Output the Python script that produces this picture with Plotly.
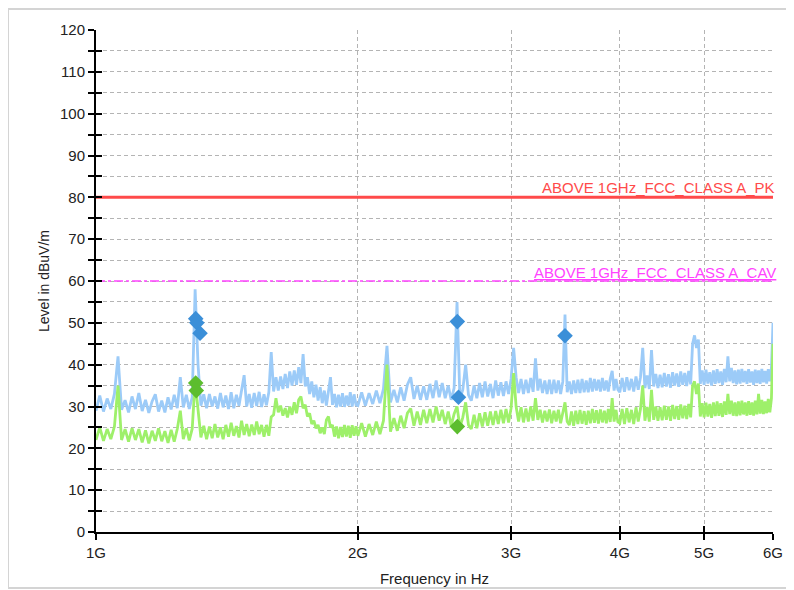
import math
import plotly.graph_objects as go

# ---------------- data ----------------
freq_mhz = [
    1000, 1010, 1020, 1030, 1040, 1050, 1060, 1070, 1080, 1090,
    1100, 1110, 1120, 1130, 1140, 1150, 1160, 1170, 1180, 1190,
    1200, 1210, 1220, 1230, 1240, 1250, 1260, 1270, 1280, 1290,
    1300, 1310, 1320, 1330, 1340, 1350, 1360, 1370, 1380, 1390,
    1400, 1410, 1420, 1430, 1440, 1450, 1460, 1470, 1480, 1490,
    1500, 1510, 1520, 1530, 1540, 1550, 1560, 1570, 1580, 1590,
    1600, 1610, 1620, 1630, 1640, 1650, 1660, 1670, 1680, 1690,
    1700, 1710, 1720, 1730, 1740, 1750, 1760, 1770, 1780, 1790,
    1800, 1810, 1820, 1830, 1840, 1850, 1860, 1870, 1880, 1890,
    1900, 1910, 1920, 1930, 1940, 1950, 1960, 1970, 1980, 1990,
    2000, 2020, 2040, 2060, 2080, 2100, 2120, 2140, 2160, 2180,
    2200, 2220, 2240, 2260, 2280, 2300, 2320, 2340, 2360, 2380,
    2400, 2420, 2440, 2460, 2480, 2500, 2520, 2540, 2560, 2580,
    2600, 2620, 2640, 2660, 2680, 2700, 2720, 2740, 2760, 2780,
    2800, 2820, 2840, 2860, 2880, 2900, 2920, 2940, 2960, 2980,
    3000, 3020, 3040, 3060, 3080, 3100, 3120, 3140, 3160, 3180,
    3200, 3220, 3240, 3260, 3280, 3300, 3320, 3340, 3360, 3380,
    3400, 3420, 3440, 3460, 3480, 3500, 3520, 3540, 3560, 3580,
    3600, 3620, 3640, 3660, 3680, 3700, 3720, 3740, 3760, 3780,
    3800, 3820, 3840, 3860, 3880, 3900, 3920, 3940, 3960, 3980,
    4000, 4025, 4050, 4075, 4100, 4125, 4150, 4175, 4200, 4225,
    4250, 4275, 4300, 4325, 4350, 4375, 4400, 4425, 4450, 4475,
    4500, 4525, 4550, 4575, 4600, 4625, 4650, 4675, 4700, 4725,
    4750, 4775, 4800, 4825, 4850, 4875, 4900, 4925, 4950, 4975,
    5000, 5025, 5050, 5075, 5100, 5125, 5150, 5175, 5200, 5225,
    5250, 5275, 5300, 5325, 5350, 5375, 5400, 5425, 5450, 5475,
    5500, 5525, 5550, 5575, 5600, 5625, 5650, 5675, 5700, 5725,
    5750, 5775, 5800, 5825, 5850, 5875, 5900, 5925, 5950, 5975,
    6000,
]

peak_dbuv = [
    29.0, 32.6, 28.8, 31.9, 29.4, 33.0, 42.0, 29.2, 31.5, 28.6,
    32.4, 29.4, 33.2, 28.9, 31.6, 28.5, 31.2, 32.9, 28.8, 31.4,
    28.6, 32.2, 29.3, 32.8, 29.6, 37.0, 29.8, 32.8, 29.4, 32.2,
    58.0, 40.0, 30.2, 32.9, 29.6, 33.0, 30.0, 32.4, 29.5, 33.2,
    29.8, 32.6, 29.4, 33.4, 29.6, 32.8, 30.2, 34.0, 37.5, 30.0,
    33.0, 29.7, 33.2, 30.1, 33.5, 29.9, 32.9, 30.3, 33.4, 43.0,
    33.6, 37.0, 33.8, 37.2, 34.2, 37.8, 34.4, 38.4, 35.0, 38.6,
    35.2, 39.4, 35.6, 42.5, 34.8, 37.0, 33.0, 36.0, 32.2, 35.2,
    31.4, 34.6, 30.8, 33.8, 30.2, 33.6, 37.0, 30.4, 33.0, 29.8,
    32.8, 30.0, 33.2, 29.9, 32.6, 30.2, 33.4, 30.0, 32.9, 30.4,
    30.2, 33.4, 30.2, 33.2, 30.6, 33.8, 30.8, 34.2, 44.5, 31.0,
    34.0, 31.0, 34.6, 31.4, 35.2, 37.0, 31.8, 35.0, 31.6, 34.8,
    31.6, 35.4, 32.0, 36.2, 32.2, 35.6, 32.0, 35.0, 31.6, 34.4,
    55.0, 31.8, 34.0, 40.0, 32.8, 31.4, 35.0, 32.0, 35.6, 32.2,
    36.0, 32.4, 35.4, 32.0, 36.2, 32.6, 35.8, 32.5, 36.0, 33.0,
    36.6, 44.0, 37.0, 33.2, 36.6, 33.0, 36.4, 33.2, 36.8, 33.5,
    41.5, 33.8, 36.6, 33.2, 36.2, 33.0, 36.4, 33.0, 36.4, 33.2,
    36.2, 33.0, 36.0, 52.0, 33.4, 36.0, 33.0, 36.2, 33.2, 36.4,
    33.2, 36.6, 33.4, 36.2, 33.4, 36.8, 33.6, 36.6, 33.8, 36.4,
    33.6, 36.8, 33.8, 36.2, 33.6, 36.6, 38.5, 33.8, 36.6, 34.0,
    33.4, 36.8, 33.5, 37.0, 33.9, 36.6, 33.6, 37.2, 34.0, 37.0,
    44.0, 34.4, 37.4, 34.2, 43.5, 34.8, 37.8, 34.4, 37.6, 34.6,
    38.0, 34.8, 37.7, 34.5, 38.2, 35.0, 37.9, 34.7, 38.4, 35.2,
    38.0, 34.9, 38.5, 35.3, 45.0, 47.0, 44.0, 46.0, 35.4, 38.6,
    35.2, 38.8, 35.5, 38.2, 35.0, 38.6, 35.4, 38.9, 35.6, 38.4,
    35.2, 39.0, 35.8, 42.0, 36.0, 39.2, 35.6, 38.6, 35.3, 38.8,
    35.5, 39.0, 35.8, 38.5, 35.4, 38.9, 35.7, 38.4, 35.2, 38.8,
    35.6, 38.6, 35.4, 39.0, 35.8, 38.5, 35.5, 38.9, 36.0, 39.2,
    50.0,
]

avg_dbuv = [
    22.0, 25.0, 21.8, 24.6, 22.2, 25.2, 35.0, 22.0, 24.6, 21.6,
    24.8, 22.0, 24.6, 21.4, 24.3, 21.2, 24.2, 21.8, 24.8, 21.7,
    24.1, 21.3, 24.4, 21.6, 24.6, 29.0, 22.2, 24.8, 21.9, 24.7,
    36.0, 29.0, 22.6, 25.4, 22.2, 25.2, 22.4, 25.8, 22.6, 25.0,
    22.2, 25.6, 22.8, 26.1, 23.0, 25.3, 22.6, 26.6, 23.2, 25.8,
    22.9, 25.7, 23.2, 26.4, 23.4, 25.6, 22.8, 25.6, 23.0, 27.5,
    28.0, 32.0, 28.6, 30.2, 27.8, 29.6, 27.4, 30.0, 28.0, 31.0,
    28.4, 31.6, 32.4, 29.6, 30.4, 27.6, 28.4, 25.8, 26.6, 24.8,
    25.6, 23.6, 25.0, 23.4, 26.8, 27.6, 25.0, 25.6, 22.8, 25.2,
    22.4, 25.1, 22.7, 25.6, 22.8, 25.4, 22.5, 25.5, 23.0, 25.3,
    23.0, 26.0, 22.8, 25.8, 23.2, 26.4, 23.4, 26.6, 40.0, 24.0,
    27.2, 24.2, 27.8, 24.8, 28.4, 29.5, 25.4, 28.8, 25.6, 29.2,
    26.0, 29.4, 26.2, 30.0, 26.6, 29.2, 25.8, 28.8, 25.4, 28.2,
    30.0, 25.0, 27.4, 31.0, 25.6, 24.6, 28.0, 24.8, 28.4, 25.2,
    28.6, 25.4, 28.8, 25.6, 28.9, 25.8, 29.2, 26.0, 29.4, 26.2,
    29.6, 38.0, 30.0, 26.4, 29.8, 26.2, 29.5, 26.4, 30.0, 26.6,
    32.0, 26.8, 29.2, 26.2, 29.0, 26.4, 29.3, 26.0, 29.0, 26.4,
    29.2, 26.0, 29.0, 31.0, 26.4, 25.6, 28.8, 25.4, 29.0, 25.8,
    29.2, 25.9, 28.9, 25.6, 29.0, 26.0, 29.4, 26.1, 29.1, 25.9,
    29.3, 26.2, 29.0, 26.0, 29.4, 26.3, 32.0, 26.4, 29.2, 26.3,
    26.0, 29.4, 25.8, 29.6, 26.2, 29.2, 25.8, 29.8, 26.4, 29.4,
    35.0, 26.6, 29.9, 26.4, 34.0, 26.8, 30.0, 26.6, 29.8, 26.7,
    30.2, 26.8, 30.0, 26.6, 30.4, 27.0, 30.1, 26.8, 30.5, 27.2,
    30.2, 27.0, 30.6, 27.4, 35.0, 36.0, 33.0, 35.5, 27.6, 30.8,
    27.4, 30.9, 27.6, 30.6, 27.3, 31.0, 27.7, 31.2, 27.8, 30.8,
    27.5, 31.2, 28.0, 33.0, 28.2, 31.4, 27.8, 31.0, 27.7, 31.2,
    27.9, 31.4, 28.1, 31.0, 27.8, 31.3, 28.0, 31.0, 27.8, 31.4,
    28.1, 33.0, 28.3, 31.6, 28.2, 31.2, 28.4, 31.8, 28.6, 31.9,
    45.0,
]

pk_marker_mhz = [1302, 1306, 1317, 2602, 2610, 3460]
pk_marker_dbuv = [51.0, 50.0, 47.5, 50.3, 32.2, 46.9]
av_marker_mhz = [1302, 1304, 2602]
av_marker_dbuv = [35.6, 33.8, 25.2]

limit_mhz = [1000, 6000]
limit_pk_dbuv = [80, 80]
limit_cav_dbuv = [60, 60]
limit_pk_name = "ABOVE 1GHz_FCC_CLASS A_PK"
limit_cav_name = "ABOVE 1GHz_FCC_CLASS A_CAV"

x_tick_hz = [1e9, 2e9, 3e9, 4e9, 5e9, 6e9]
x_tick_text = ["1G", "2G", "3G", "4G", "5G", "6G"]
y_tick_vals = [0, 5, 10, 15, 20, 25, 30, 35, 40, 45, 50, 55, 60, 65, 70, 75,
               80, 85, 90, 95, 100, 105, 110, 115, 120]
y_tick_text = ["0", "", "10", "", "20", "", "30", "", "40", "", "50", "", "60", "",
               "70", "", "80", "", "90", "", "100", "", "110", "", "120"]

# ---------------- figure ----------------
to_hz = lambda arr: [v * 1e6 for v in arr]
FONT = "Liberation Sans, Arial, sans-serif"
GRID = "#b4b4b4"

fig = go.Figure()
fig.add_trace(go.Scatter(x=to_hz(freq_mhz), y=peak_dbuv, mode="lines",
                         line=dict(color="#9ccbf8", width=2.8), hoverinfo="skip"))
fig.add_trace(go.Scatter(x=to_hz(freq_mhz), y=avg_dbuv, mode="lines",
                         line=dict(color="#9ef06a", width=2.8), hoverinfo="skip"))
fig.add_trace(go.Scatter(x=to_hz(limit_mhz), y=limit_pk_dbuv, mode="lines",
                         line=dict(color="#ff4a4a", width=3)))
fig.add_trace(go.Scatter(x=to_hz(limit_mhz), y=limit_cav_dbuv, mode="lines",
                         line=dict(color="#ff44ff", width=1.5, dash="dashdot")))
fig.add_trace(go.Scatter(x=to_hz(pk_marker_mhz), y=pk_marker_dbuv, mode="markers",
                         marker=dict(symbol="diamond", size=12, color="#3b8fd8")))
fig.add_trace(go.Scatter(x=to_hz(av_marker_mhz), y=av_marker_dbuv, mode="markers",
                         marker=dict(symbol="diamond", size=12, color="#5cbd2e")))
# empty trace to activate overlay axes (inside tick marks)
fig.add_trace(go.Scatter(x=[], y=[], xaxis="x2", yaxis="y2", hoverinfo="skip"))

xr = [math.log10(x_tick_hz[0]), math.log10(x_tick_hz[-1])]
yr = [y_tick_vals[0], y_tick_vals[-1]]

fig.update_layout(
    width=794, height=590,
    margin=dict(l=88, r=29, t=22, b=66),
    paper_bgcolor="white", plot_bgcolor="white",
    showlegend=False,
    font=dict(family=FONT, size=15, color="#222"),
    xaxis=dict(type="log", range=xr, tickvals=x_tick_hz, ticktext=x_tick_text,
               ticks="outside", ticklen=6, tickwidth=2, tickcolor="black",
               showline=True, linecolor="black", linewidth=2,
               showgrid=True, gridcolor=GRID, griddash="4px,3px", gridwidth=1,
               zeroline=False, tickfont=dict(size=15),
               title=dict(text="Frequency in Hz", font=dict(size=15), standoff=13)),
    yaxis=dict(range=yr, tickvals=y_tick_vals, ticktext=y_tick_text,
               ticks="outside", ticklen=6, tickwidth=2, tickcolor="black",
               showline=True, linecolor="black", linewidth=2,
               showgrid=True, gridcolor=GRID, griddash="4px,3px", gridwidth=1,
               zeroline=False, tickfont=dict(size=15),
               title=dict(text="Level in dBuV/m", font=dict(size=14), standoff=7)),
    xaxis2=dict(type="log", range=xr, overlaying="x", anchor="y", side="bottom",
                tickvals=x_tick_hz, showticklabels=False, ticks="inside",
                ticklen=6, tickwidth=2, tickcolor="black", showgrid=False,
                showline=False, zeroline=False),
    yaxis2=dict(range=yr, overlaying="y", anchor="x", side="left",
                tickvals=y_tick_vals, showticklabels=False, ticks="inside",
                ticklen=6, tickwidth=2, tickcolor="black", showgrid=False,
                showline=False, zeroline=False),
    shapes=[dict(type="rect", xref="paper", yref="paper",
                 x0=-0.13, x1=1.0207, y0=-0.1116, y1=1.0418,
                 line=dict(color="#d4d4d4", width=2), fillcolor="rgba(0,0,0,0)",
                 layer="below")],
    annotations=[
        dict(x=math.log10(limit_mhz[-1] * 1e6), y=limit_pk_dbuv[-1], xref="x", yref="y",
             text=limit_pk_name, showarrow=False, xanchor="right", yanchor="bottom",
             xshift=4, yshift=-1, font=dict(color="#ff4a4a", size=15)),
        dict(x=math.log10(limit_mhz[-1] * 1e6), y=limit_cav_dbuv[-1], xref="x", yref="y",
             text="<u>" + limit_cav_name + "</u>", showarrow=False, xanchor="right",
             yanchor="bottom", xshift=5, yshift=-2, font=dict(color="#ff44ff", size=15)),
    ],
)

fig.write_html("out.html")
